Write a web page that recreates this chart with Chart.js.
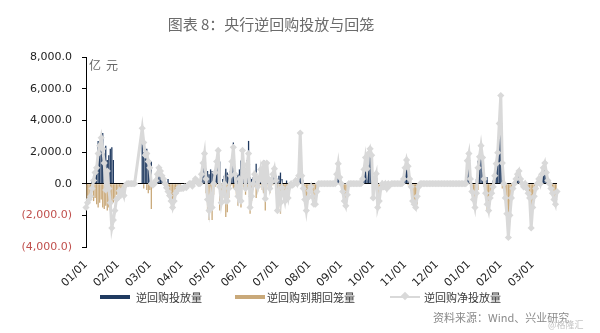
<!DOCTYPE html>
<html>
<head>
<meta charset="utf-8">
<script src="https://cdn.jsdelivr.net/npm/chart.js@4"></script>
<style>
  html, body { margin:0; padding:0; background:#fff; }
  #wrap { position:relative; width:600px; height:333px; overflow:hidden; font-family:"Noto Sans CJK SC","Noto Sans",sans-serif; }
  #c { position:absolute; left:0; top:0; }
  .t { position:absolute; white-space:nowrap; }
  #title { left:4px; width:534px; top:13px; text-align:center; font-size:15px; color:#6b6b6b; }
  #unit { left:89px; top:56px; font-size:12px; color:#666; letter-spacing:5px; }
  .lg { position:absolute; top:289px; font-size:11px; color:#3a3a3a; }
  .sw { position:absolute; height:4px; width:30px; }
  #src { left:433px; top:309px; font-size:11px; color:#8a8a8a; }
  #wm { left:548px; top:318px; font-size:9px; color:#c4c4c4; }
</style>
</head>
<body>
<div id="wrap">
  <canvas id="c" width="600" height="333"></canvas>
  <div class="t" id="title">图表 8：央行逆回购投放与回笼</div>
  <div class="t" id="unit">亿元</div>
  <div class="sw" style="left:100px;top:295px;background:#203a60;"></div>
  <div class="lg" style="left:136px;">逆回购投放量</div>
  <div class="sw" style="left:235px;top:295px;background:#c9a97a;"></div>
  <div class="lg" style="left:267px;">逆回购到期回笼量</div>
  <div class="sw" style="left:390px;top:296px;height:2px;background:#d9d9d9;"></div>
  <div style="position:absolute;left:402px;top:293px;width:6px;height:6px;background:#d9d9d9;transform:rotate(45deg);"></div>
  <div class="lg" style="left:424px;">逆回购净投放量</div>
  <div class="t" id="src">资料来源：Wind、兴业研究</div>
  <div class="t" id="wm">@格隆汇</div>
</div>
<script>
// Month tick labels (one every 21 business days)
const monthTicks = ["01/01","02/01","03/01","04/01","05/01","06/01","07/01","08/01","09/01","10/01","11/01","12/01","01/01","02/01","03/01"];
const daysPerMonth = 21;

// 逆回购投放量 (亿元)
const injection = [
  0,0,0,0,200,500,800,1260,2700,1800,2600,3200,1900,2400,1500,1800,2200,2300,1500,0,0,
  0,0,0,0,0,0,0,0,0,0,0,0,0,0,0,0,3500,2000,1960,2200,1460,
  1460,1400,0,0,300,600,800,500,500,300,0,0,300,0,0,0,0,0,0,0,0,
  0,0,0,0,0,0,0,0,100,300,200,0,0,600,1300,1900,950,800,600,900,800,
  700,900,1500,2100,1400,0,300,500,950,700,600,800,1500,2600,1000,400,600,900,1460,2100,500,
  400,1500,2700,400,300,400,800,1260,300,500,1000,600,1460,700,1400,600,300,400,700,950,500,
  300,500,700,300,0,0,200,0,100,100,0,0,200,0,500,3200,500,200,0,0,0,
  0,0,0,0,0,0,0,0,0,0,0,0,0,0,0,0,0,0,600,1260,400,
  0,0,0,0,0,0,0,0,0,0,0,0,0,0,300,900,1000,950,1200,2200,1800,
  0,400,630,0,0,0,0,0,0,0,0,0,0,0,0,0,0,0,0,0,300,
  1000,1500,1200,300,0,0,0,0,0,0,0,0,0,0,0,0,0,0,0,0,0,
  0,0,0,0,0,0,0,0,0,0,0,0,0,0,0,0,0,0,0,0,1450,
  1900,300,0,0,0,300,1450,1700,2400,1650,500,200,400,0,0,0,200,500,1260,1960,3800,
  5600,1600,300,0,0,0,0,0,0,0,300,600,800,300,0,0,0,0,0,0,0,
  0,0,0,0,300,0,600,1000,1300,700,0,0,0,0,0,0,0
];

// 逆回购到期回笼量 (亿元)
const maturity = [
  -1500,-1200,-1000,-800,-500,-1100,-900,-1300,-1500,-1200,-1000,-1500,-1600,-1400,-1700,-1500,-1700,-1300,-1200,-1000,-700,
  -700,-500,-700,-400,-750,-200,0,0,0,0,0,0,0,0,0,0,0,-300,0,-400,-600,
  -400,-1600,-200,0,0,0,0,0,0,0,-100,-250,-800,-750,-1100,-1500,-1100,-600,-450,-250,-300,
  0,0,0,-250,0,0,0,-150,0,0,0,0,0,0,0,0,-600,-1800,-2300,-1700,-2300,
  -700,-200,-100,0,-1700,-1200,-900,-500,-2100,-1800,-900,-300,-100,-300,-400,-700,-1400,-600,-1500,0,-300,
  -700,-300,-100,-1900,-1100,-400,-200,-900,-500,-200,-100,-400,-600,-1700,-100,-300,-600,-300,-100,0,-300,
  -1700,-1100,-1900,-500,-600,-1100,-700,-900,-300,-100,-100,0,0,0,0,0,0,-500,-1000,-1700,-900,
  -450,-200,-800,-1300,-1300,-500,0,0,0,0,0,0,0,0,0,0,0,0,0,0,0,
  0,-500,-1100,-1400,-700,0,0,0,0,0,0,0,0,0,0,0,0,0,0,0,0,
  -900,-100,0,-1500,-1100,-300,0,-200,0,-300,0,-100,0,0,0,0,0,0,0,0,0,
  0,0,-100,0,-200,-1100,-1300,-1500,-1300,-200,0,0,0,0,0,0,0,0,0,0,0,
  0,0,0,0,0,0,0,0,0,0,0,0,0,0,0,0,0,0,0,0,0,
  0,0,-500,-1000,-1500,-900,-400,0,0,0,-200,-800,-1700,-1700,-900,-600,-400,0,0,0,0,
  0,-300,-300,-900,-1900,-3400,-2000,-900,-300,0,0,0,0,0,0,-200,0,-300,-600,-900,-2800,
  -1500,-800,-300,0,0,0,0,0,0,0,0,0,-300,-600,-1000,-1300,-500
];

// 逆回购净投放量 (亿元); null = holiday gap
const netInjection = [
  -1500,-1200,-1000,-800,-300,200,700,1000,1900,2400,2900,2200,1300,-400,800,-300,-1200,-2800,-2300,-1700,-1000,
  -900,-450,-700,-400,-750,-100,0,0,0,0,0,0,null,null,null,null,3500,2600,1800,1900,1400,
  1000,0,-100,0,200,600,1000,800,500,300,0,-250,-500,-750,-1100,-1500,-1100,-600,-450,-250,-300,
  -300,-300,-200,-250,-100,0,0,-150,100,300,200,0,0,600,1300,1900,300,-1000,-1700,-800,-1500,
  0,700,1400,2100,-200,-1200,-600,0,-1100,-1100,-300,500,1400,2300,600,-300,-800,300,-1100,2100,800,
  -300,1200,1900,-1500,-800,0,600,400,-200,300,900,200,1300,-950,1300,300,-300,100,600,950,200,
  -1700,-600,-1200,-250,-600,-1100,-500,-900,-200,0,-100,0,200,0,500,3200,500,-300,-1000,-1700,-900,
  -450,-200,-800,-1300,-1300,-500,0,0,0,0,0,0,0,0,0,0,0,0,600,1260,400,
  0,-500,-1100,-1400,-700,0,0,0,0,0,0,0,0,0,300,900,1650,950,1900,2200,1800,
  -900,300,630,-1500,-1100,-300,0,-200,0,-300,0,-100,0,0,0,0,0,0,0,0,300,
  1000,1500,1100,300,-200,-1100,-1300,-1500,-800,-200,0,0,0,0,0,0,0,0,0,0,0,
  0,0,0,0,0,0,0,0,0,0,0,0,0,0,0,0,0,0,0,0,1450,
  1900,300,-500,-1000,-1500,-600,1000,1700,2400,1650,300,-600,-1300,-1700,-900,-600,-200,500,1260,1960,3800,
  5570,1300,0,-900,-1900,-3400,-2000,-900,-300,0,300,600,800,300,0,-200,0,-300,-600,-900,-2800,
  -1500,-800,-300,0,300,0,600,1000,1300,700,200,0,-300,-600,-1000,-1300,-500
];

const categories = injection.map((_, i) => (i % daysPerMonth === 0 ? (monthTicks[i / daysPerMonth] || "") : ""));

function fmt(v) {
  const a = Math.abs(v).toLocaleString("en-US", { minimumFractionDigits: 1, maximumFractionDigits: 1 });
  return v < 0 ? "(" + a + ")" : a;
}

new Chart(document.getElementById("c"), {
  type: "bar",
  data: {
    labels: categories,
    datasets: [
      { type: "line", label: "逆回购净投放量", data: netInjection, order: 0,
        borderColor: "#d9d9d9", backgroundColor: "#d9d9d9", borderWidth: 3,
        pointStyle: "rectRot", pointRadius: 3.6, pointBorderWidth: 0, pointBackgroundColor: "#d9d9d9",
        spanGaps: true, tension: 0 },
      { label: "逆回购投放量", data: injection, order: 1, backgroundColor: "#203a60",
        barPercentage: 0.85, categoryPercentage: 1 },
      { label: "逆回购到期回笼量", data: maturity, order: 2, backgroundColor: "#c9a97a",
        barPercentage: 0.85, categoryPercentage: 1 }
    ]
  },
  options: {
    responsive: false,
    animation: false,
    layout: { padding: { left: 0, right: 43, top: 57, bottom: 0 } },
    plugins: { legend: { display: false }, tooltip: { enabled: false }, title: { display: false } },
    scales: {
      x: {
        type: "category",
        stacked: true,
        offset: false,
        grid: { display: false, drawTicks: false },
        border: { display: false },
        ticks: {
          autoSkip: false, minRotation: 45, maxRotation: 45, padding: 11,
          color: "#222", font: { family: "DejaVu Sans", size: 11 }
        },
        afterFit: (s) => { s.height = 86; }
      },
      y: {
        min: -4000, max: 8000,
        stacked: false,
        afterFit: (s) => { s.width = 86; },
        border: { display: true, color: "#000", width: 1 },
        grid: {
          drawTicks: true, tickLength: 4, tickColor: "#000",
          color: (ctx) => (ctx.tick && ctx.tick.value === 0 ? "#000" : "rgba(0,0,0,0)"),
          lineWidth: 1
        },
        ticks: {
          stepSize: 2000, padding: 10,
          color: (ctx) => (ctx.tick && ctx.tick.value < 0 ? "#c0504d" : "#222"),
          font: { family: "DejaVu Sans", size: 11 },
          callback: (v) => fmt(v)
        }
      }
    }
  }
});
</script>
</body>
</html>
